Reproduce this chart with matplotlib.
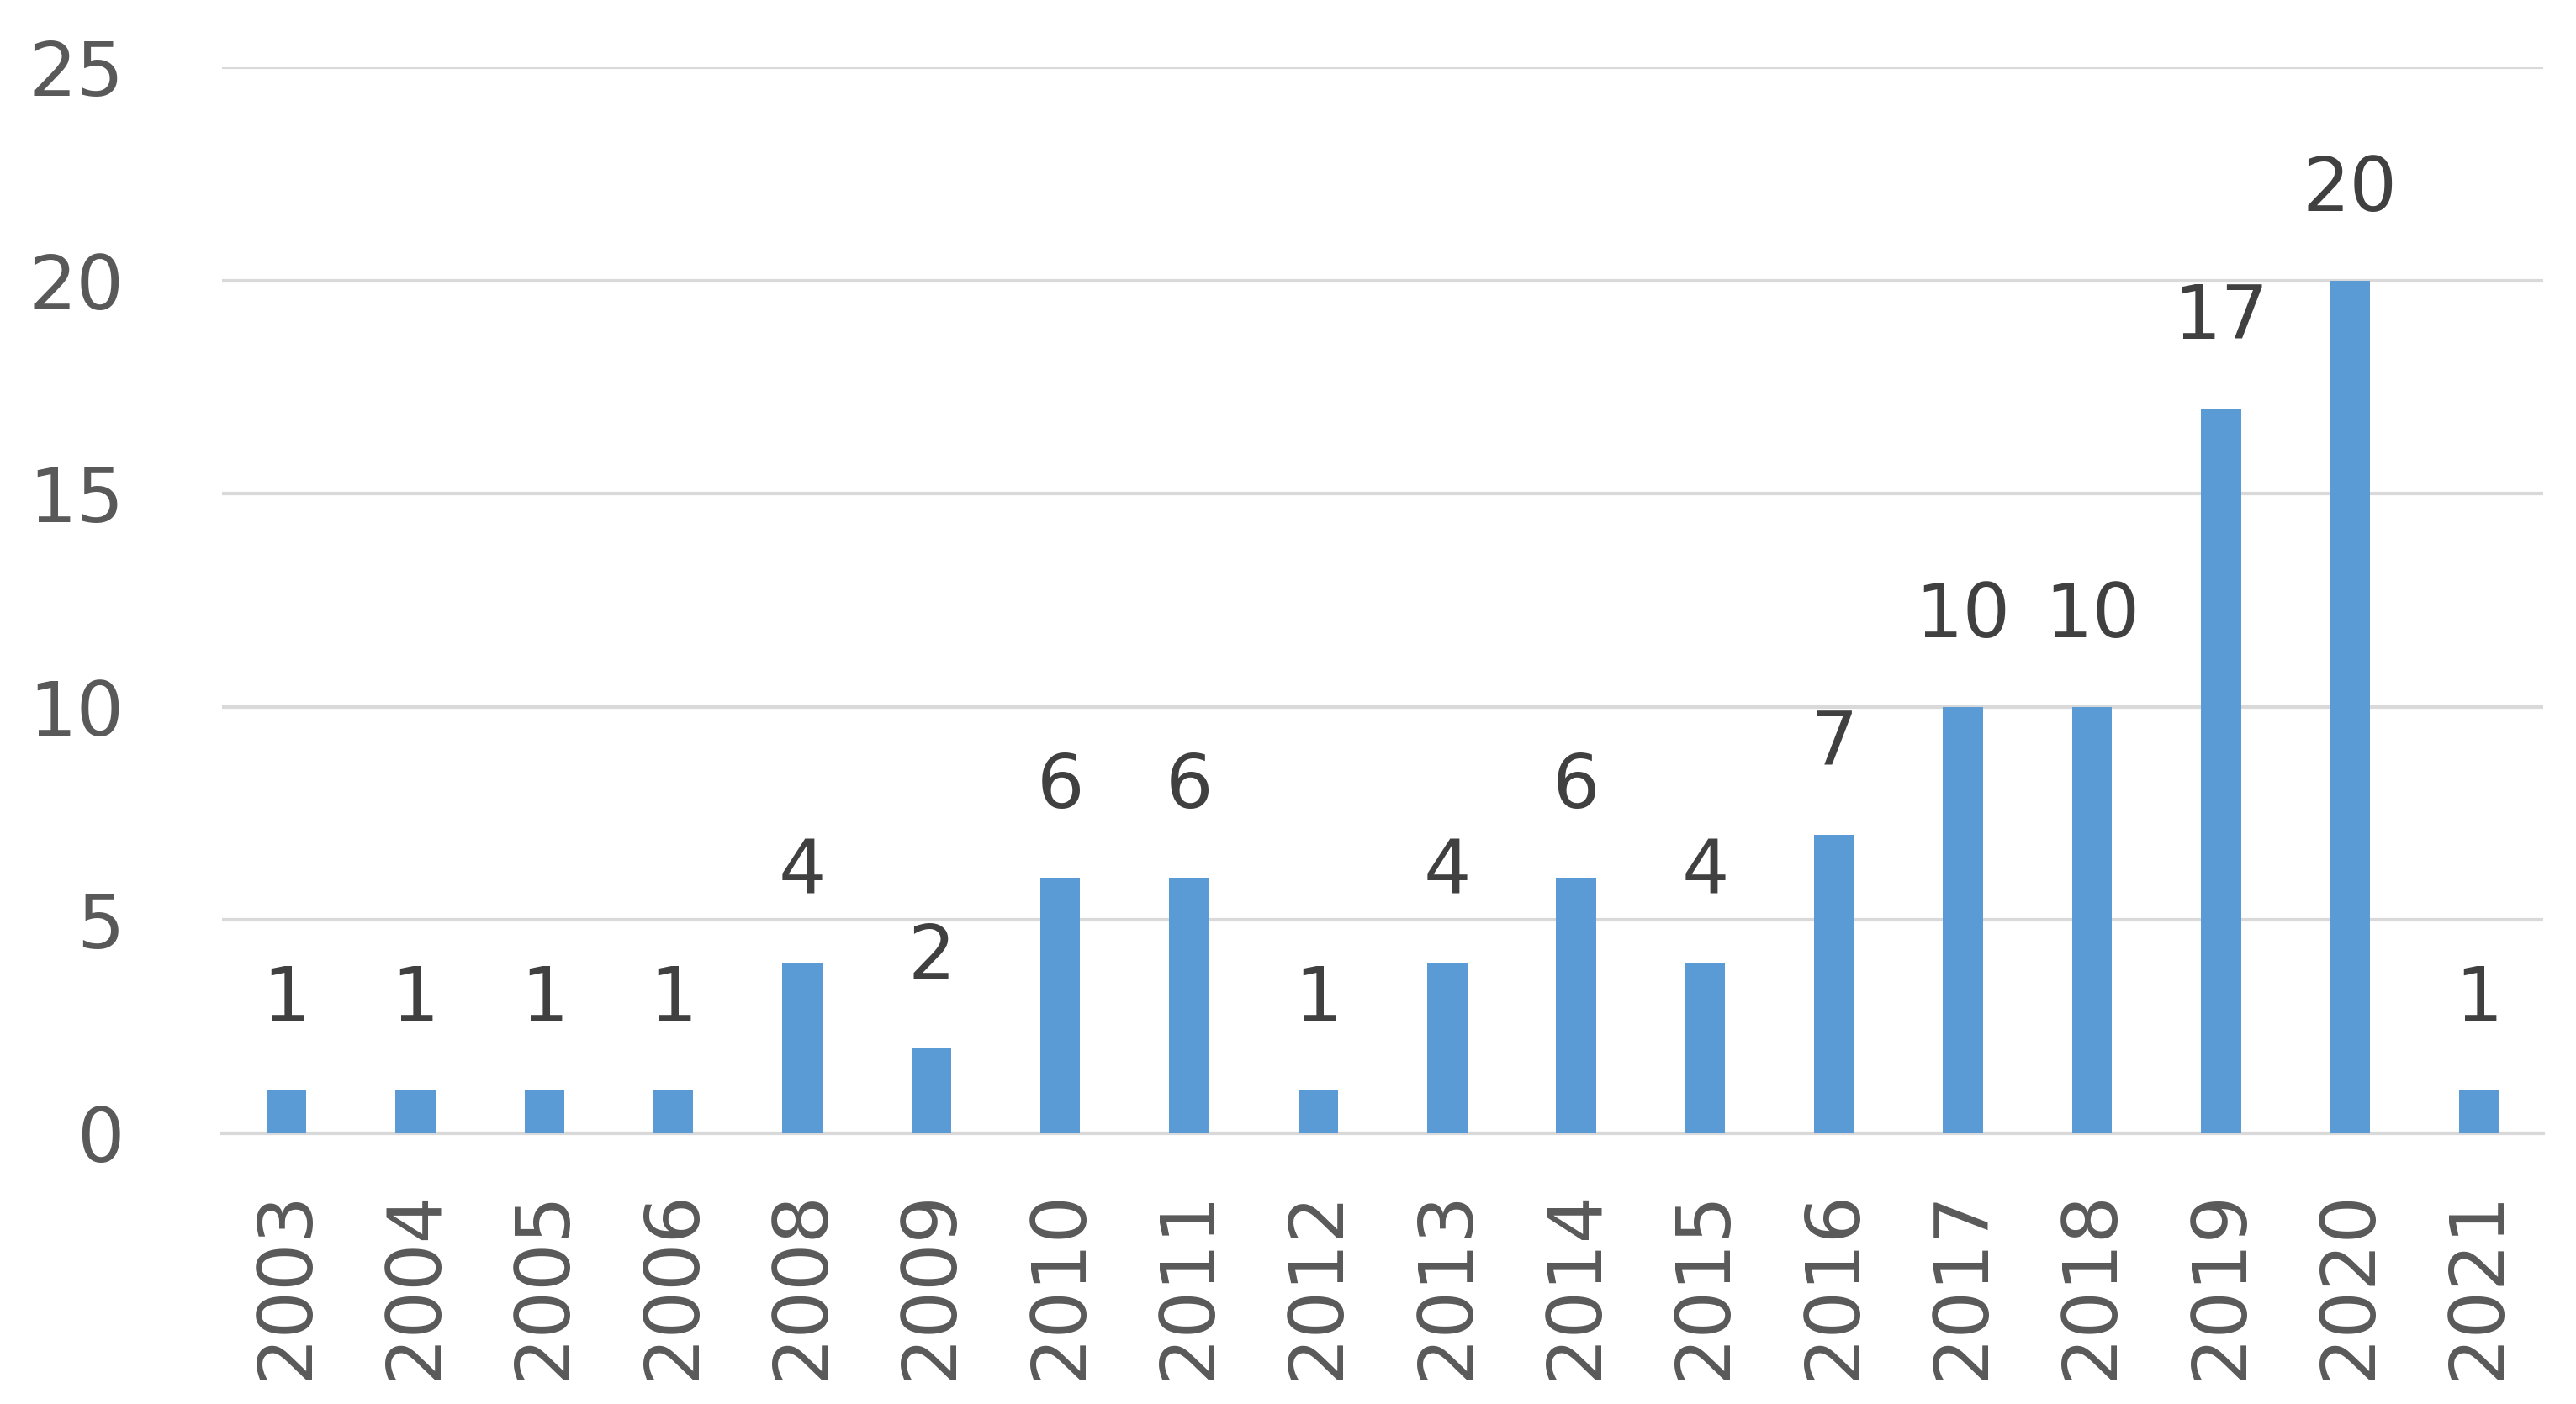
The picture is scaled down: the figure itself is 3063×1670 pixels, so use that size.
import matplotlib
matplotlib.use("Agg")
import matplotlib.pyplot as plt

years = ["2003", "2004", "2005", "2006", "2008", "2009", "2010", "2011", "2012",
         "2013", "2014", "2015", "2016", "2017", "2018", "2019", "2020", "2021"]
counts = [1, 1, 1, 1, 4, 2, 6, 6, 1, 4, 6, 4, 7, 10, 10, 17, 20, 1]
yticks = [0, 5, 10, 15, 20, 25]

plt.rcParams['font.family'] = ['DejaVu Sans']

fig = plt.figure(figsize=(30.63, 16.70), dpi=100)
ax = fig.add_axes([0.0862, 0.1928, 0.9873 - 0.0862, 0.952 - 0.1928])

x = list(range(len(years)))
ax.bar(x, counts, width=0.31, color="#5B9BD5", zorder=3)

for xi, v in zip(x, counts):
    ax.annotate(str(v), (xi, v), xytext=(0, 46), textcoords="offset points",
                ha="center", va="bottom", fontsize=64, color="#404040")

ax.set_xlim(-0.5, len(years) - 0.5)
ax.set_ylim(0, 25)
ax.set_yticks(yticks)
ax.set_yticklabels([str(t) for t in yticks], fontsize=64, color="#595959")
ax.set_xticks(x)
ax.set_xticklabels(years, rotation=90, fontsize=64, color="#595959")
ax.tick_params(axis="both", length=0)
ax.tick_params(axis="y", pad=84)
ax.tick_params(axis="x", pad=48)

ax.grid(axis="y", color="#D9D9D9", linewidth=3, zorder=0)
for s in ["top", "right", "left", "bottom"]:
    ax.spines[s].set_visible(False)
ax.axhline(0, color="#D9D9D9", linewidth=3, zorder=2, clip_on=False)

fig.savefig("out.png", dpi=100, facecolor="white")
